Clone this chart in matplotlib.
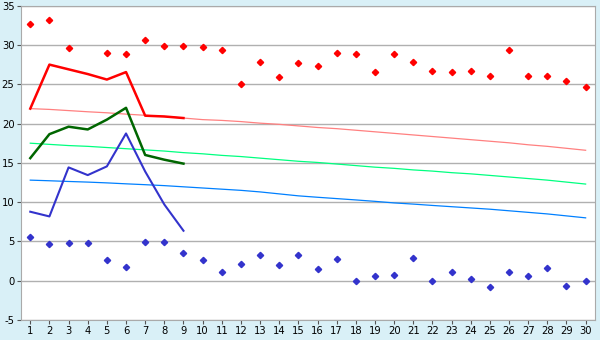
import matplotlib
matplotlib.use('Agg')
import matplotlib.pyplot as plt

plt.rcParams['axes.unicode_minus'] = False

days = list(range(1, 31))

# daily max / min observations (diamonds)
max_obs = [32.7, 33.2, 29.6, None, 29.0, 28.8, 30.6, 29.9, 29.9, 29.7,
           29.35, 25.0, 27.8, 25.9, 27.7, 27.3, 29.0, 28.8, 26.55, 28.8,
           27.8, 26.7, 26.55, 26.7, 26.0, 29.35, 26.0, 26.0, 25.4, 24.6]
min_obs = [5.56, 4.67, 4.8, 4.8, 2.63, 1.74, 4.92, 4.92, 3.52, 2.63,
           1.1, 2.12, 3.26, 2.0, 3.26, 1.48, 2.76, 0.0, 0.6, 0.72,
           2.89, 0.0, 1.1, 0.21, -0.8, 1.1, 0.6, 1.6, -0.68, 0.0]

# first nine days (thick lines)
line_days = days[:9]
max_line = [21.9, 27.5, 26.9, 26.3, 25.6, 26.55, 21.0, 20.9, 20.7]
mean_line = [15.6, 18.65, 19.6, 19.25, 20.5, 22.0, 16.0, 15.4, 14.9]
min_line = [8.78, 8.18, 14.42, 13.44, 14.55, 18.74, 13.9, 9.7, 6.36]

# normals (thin lines)
max_norm = [21.9, 21.8, 21.65, 21.5, 21.37, 21.2, 21.05, 20.9, 20.7, 20.5,
            20.4, 20.25, 20.05, 19.9, 19.7, 19.5, 19.35, 19.15, 18.95, 18.75,
            18.55, 18.35, 18.15, 17.95, 17.75, 17.55, 17.3, 17.1, 16.85, 16.6]
mean_norm = [17.5, 17.35, 17.2, 17.1, 16.95, 16.8, 16.65, 16.5, 16.3, 16.15,
             15.95, 15.8, 15.6, 15.4, 15.2, 15.05, 14.85, 14.65, 14.45, 14.3,
             14.1, 13.95, 13.75, 13.6, 13.4, 13.2, 13.0, 12.8, 12.55, 12.3]
min_norm = [12.8, 12.72, 12.63, 12.55, 12.45, 12.33, 12.22, 12.1, 11.95, 11.8,
            11.65, 11.5, 11.3, 11.05, 10.8, 10.62, 10.45, 10.28, 10.1, 9.9,
            9.75, 9.58, 9.42, 9.26, 9.1, 8.9, 8.7, 8.5, 8.25, 8.0]

fig = plt.figure(figsize=(6, 3.4), dpi=100)
fig.patch.set_facecolor('#d9f0f7')
ax = fig.add_axes([0.0345, 0.0588, 0.9575, 0.9245])
ax.set_facecolor('white')

ax.plot(days, max_norm, color='#ff8080', lw=0.9, zorder=2)
ax.plot(days, mean_norm, color='#00ff80', lw=0.9, zorder=2)
ax.plot(days, min_norm, color='#0080ff', lw=0.9, zorder=2)

ax.plot(line_days, max_line, color='#ff0000', lw=1.8, zorder=3)
ax.plot(line_days, mean_line, color='#006600', lw=1.8, zorder=3)
ax.plot(line_days, min_line, color='#3333cc', lw=1.5, zorder=3)

mx = [d for d, v in zip(days, max_obs) if v is not None]
my = [v for v in max_obs if v is not None]
ax.plot(mx, my, ls='none', marker='D', ms=3.2, color='#ff0000', zorder=4)
ax.plot(days, min_obs, ls='none', marker='D', ms=3.2, color='#3333cc', zorder=4)

ax.set_xlim(0.5, 30.5)
ax.set_ylim(-5, 35)
ax.set_xticks(days)
ax.set_yticks(range(-5, 36, 5))
ax.yaxis.grid(True, color='#b0b0b0', lw=1)
ax.set_axisbelow(True)
for s in ax.spines.values():
    s.set_color('#aaaaaa')
ax.tick_params(axis='both', colors='black', labelsize=7.2, length=3,
               color='#555555', pad=1.5)

fig.savefig('out.png', dpi=100, facecolor=fig.get_facecolor())
